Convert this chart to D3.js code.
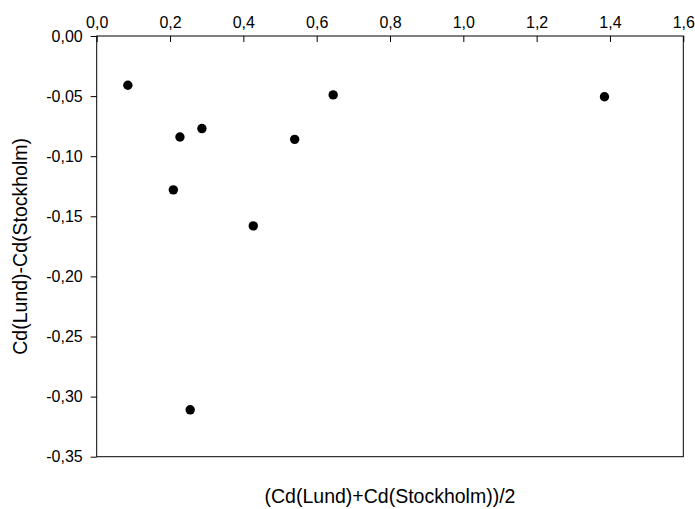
<!DOCTYPE html>
<html>
<head>
<meta charset="utf-8">
<script src="https://cdn.jsdelivr.net/npm/d3@7"></script>
<style>
  body { margin: 0; background: #fff; }
  text { font-family: Arial, "Liberation Sans", sans-serif; }
</style>
</head>
<body>
<div id="chart"></div>
<script>
let width = 695,
    height = 509,
    margin = ({ top: 36, right: 11.7, bottom: 52.3, left: 96.7 });

// mean of the two cities (x) and difference (y)
const meanCd = [0.085, 0.227, 0.287, 0.540, 0.645, 1.385, 0.209, 0.427, 0.255];
const diffCd = [-0.041, -0.084, -0.077, -0.086, -0.049, -0.0505, -0.128, -0.158, -0.311];
const xTicks = [0, 0.2, 0.4, 0.6, 0.8, 1.0, 1.2, 1.4, 1.6];
const yTicks = [0, -0.05, -0.10, -0.15, -0.20, -0.25, -0.30, -0.35];

const points = meanCd.map((m, i) => ({ x: m, y: diffCd[i] }));

const svg = d3.select("#chart")
  .append("svg")
  .attr("width", width)
  .attr("height", height);

let x = d3.scaleLinear()
  .domain([0, 1.6])
  .range([margin.left, width - margin.right]);

let y = d3.scaleLinear()
  .domain([0, -0.35])
  .range([margin.top, height - margin.bottom]);

const comma = f => d => d3.format(f)(d).replace(".", ",").replace("−", "-");

// top axis, ticks pointing into the plot
svg.append("g")
  .attr("transform", `translate(0,${margin.top})`)
  .call(d3.axisTop(x)
    .tickValues(xTicks)
    .tickSizeInner(-6)
    .tickSizeOuter(0)
    .tickPadding(8)
    .tickFormat(comma(".1f")))
  .call(g => g.select(".domain").remove());

// left axis
svg.append("g")
  .attr("transform", `translate(${margin.left},0)`)
  .call(d3.axisLeft(y)
    .tickValues(yTicks)
    .tickSizeInner(6)
    .tickSizeOuter(0)
    .tickPadding(8)
    .tickFormat(comma(".2f")))
  .call(g => g.select(".domain").remove());

svg.selectAll(".tick text")
  .attr("font-size", 16)
  .attr("fill", "#000")
  .attr("font-family", "Arial, 'Liberation Sans', sans-serif");
svg.selectAll(".tick line").attr("stroke", "#000");

// frame
svg.append("rect")
  .attr("x", x(0))
  .attr("y", y(0))
  .attr("width", x(1.6) - x(0))
  .attr("height", y(-0.35) - y(0))
  .attr("fill", "none")
  .attr("stroke", "#000")
  .attr("stroke-width", 1);

svg.append("g")
  .selectAll("circle")
  .data(points)
  .join("circle")
    .attr("cx", d => x(d.x))
    .attr("cy", d => y(d.y))
    .attr("r", 4.7)
    .attr("fill", "#000");

svg.append("text")
  .attr("text-anchor", "middle")
  .attr("x", (x(0) + x(1.6)) / 2)
  .attr("y", 503)
  .attr("font-size", 19.5)
  .text("(Cd(Lund)+Cd(Stockholm))/2");

svg.append("text")
  .attr("text-anchor", "middle")
  .attr("transform", `translate(27,${(y(0) + y(-0.35)) / 2}) rotate(-90)`)
  .attr("font-size", 19.5)
  .text("Cd(Lund)-Cd(Stockholm)");
</script>
</body>
</html>
